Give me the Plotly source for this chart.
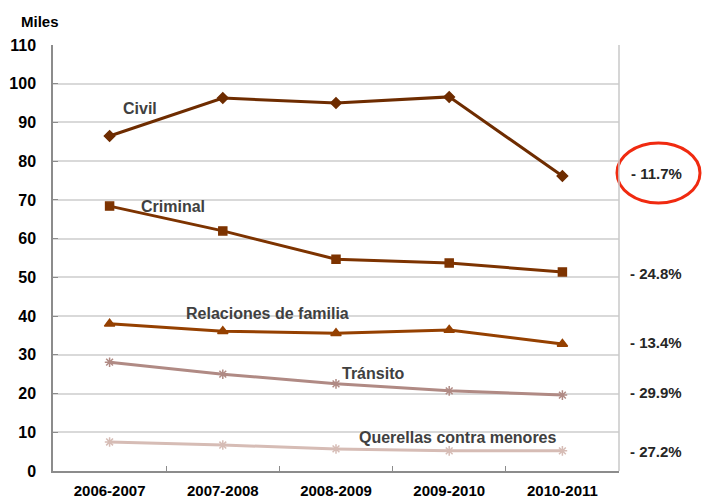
import plotly.graph_objects as go

periods = ["2006-2007", "2007-2008", "2008-2009", "2009-2010", "2010-2011"]
civil = [86.5, 96.3, 95.0, 96.6, 76.2]
criminal = [68.4, 62.0, 54.7, 53.7, 51.4]
familia = [38.0, 36.1, 35.6, 36.4, 32.8]
transito = [28.1, 25.0, 22.5, 20.7, 19.6]
querellas = [7.5, 6.7, 5.7, 5.2, 5.2]
series_names = ["Civil", "Criminal", "Relaciones de familia", "Tránsito", "Querellas contra menores"]
changes = ["- 11.7%", "- 24.8%", "- 13.4%", "- 29.9%", "- 27.2%"]
y_ticks = [0, 10, 20, 30, 40, 50, 60, 70, 80, 90, 100, 110]

FONT = "Liberation Sans, Arial, sans-serif"

W, H = 702, 502
ML, MR, MT, MB = 53, 83, 45, 31

styles = [
    dict(color="#6e2c00", symbol="diamond", size=8),
    dict(color="#7d3300", symbol="square", size=8),
    dict(color="#954000", symbol="triangle-up", size=9),
    dict(color="#b08a84", symbol="asterisk-open", size=8),
    dict(color="#d6bcb5", symbol="asterisk-open", size=8),
]
data = [civil, criminal, familia, transito, querellas]

fig = go.Figure()
for name, vals, st in zip(series_names, data, styles):
    fig.add_trace(go.Scatter(
        x=periods, y=vals, mode="lines+markers", name=name,
        line=dict(color=st["color"], width=3),
        marker=dict(symbol=st["symbol"], size=st["size"], color=st["color"],
                    line=dict(color=st["color"], width=1.5)),
        showlegend=False, cliponaxis=False,
    ))

plot_w = W - ML - MR
plot_h = H - MT - MB
def px(x):
    return (x - ML) / plot_w
def py(y):
    return (H - MB - y) / plot_h

def note(xp, yp, text, size, color):
    fig.add_annotation(x=px(xp), y=py(yp), xref="paper", yref="paper",
                       xanchor="center", yanchor="middle",
                       text=f"<b>{text}</b>", showarrow=False,
                       font=dict(family=FONT, size=size, color=color))

# series labels
label_pos = [(140, 109), (173, 206), (267, 313), (373, 373), (458, 437)]
for (xp, yp), name in zip(label_pos, series_names):
    note(xp, yp, name, 16, "#404040")

# change annotations on the right
change_y = [173, 273, 342, 392, 451]
for txt, yp in zip(changes, change_y):
    note(656, yp, txt, 15, "#262626")

note(40, 21, "Miles", 15, "#000000")

# red ellipse
fig.add_shape(type="circle", xref="paper", yref="paper",
              x0=px(617), x1=px(700), y0=py(203), y1=py(143),
              line=dict(color="#f02a10", width=3))
# right border line
fig.add_shape(type="line", xref="paper", yref="paper", x0=1, x1=1, y0=0, y1=1,
              line=dict(color="#c8c8c8", width=1.5))

fig.update_layout(
    width=W, height=H,
    margin=dict(l=ML, r=MR, t=MT, b=MB, autoexpand=False),
    paper_bgcolor="white", plot_bgcolor="white",
    font=dict(family=FONT, size=15, color="#000000"),
    xaxis=dict(
        type="category", showgrid=False, showline=True, linecolor="#8c8c8c", linewidth=1.5,
        ticks="inside", tickson="boundaries", ticklen=5, tickcolor="#8c8c8c",
        tickfont=dict(family=FONT, size=15, color="#000000"),
        tickvals=periods, ticktext=[f"<b>{p}</b>" for p in periods],
        ticklabelstandoff=5, range=[-0.5, 4.5], automargin=False,
    ),
    yaxis=dict(
        range=[0, 110], tickvals=y_ticks, ticktext=[f"<b>{t}</b>" for t in y_ticks],
        showgrid=True, gridcolor="#d9d9d9", gridwidth=1.5,
        showline=True, linecolor="#8c8c8c", linewidth=1.5,
        ticks="inside", ticklen=5, tickcolor="#8c8c8c",
        tickfont=dict(family=FONT, size=16, color="#000000"),
        ticklabelstandoff=12, zeroline=False, automargin=False,
    ),
)

fig.write_html("out.html", config={"displayModeBar": False},
               post_script="document.body.style.margin='0';")
